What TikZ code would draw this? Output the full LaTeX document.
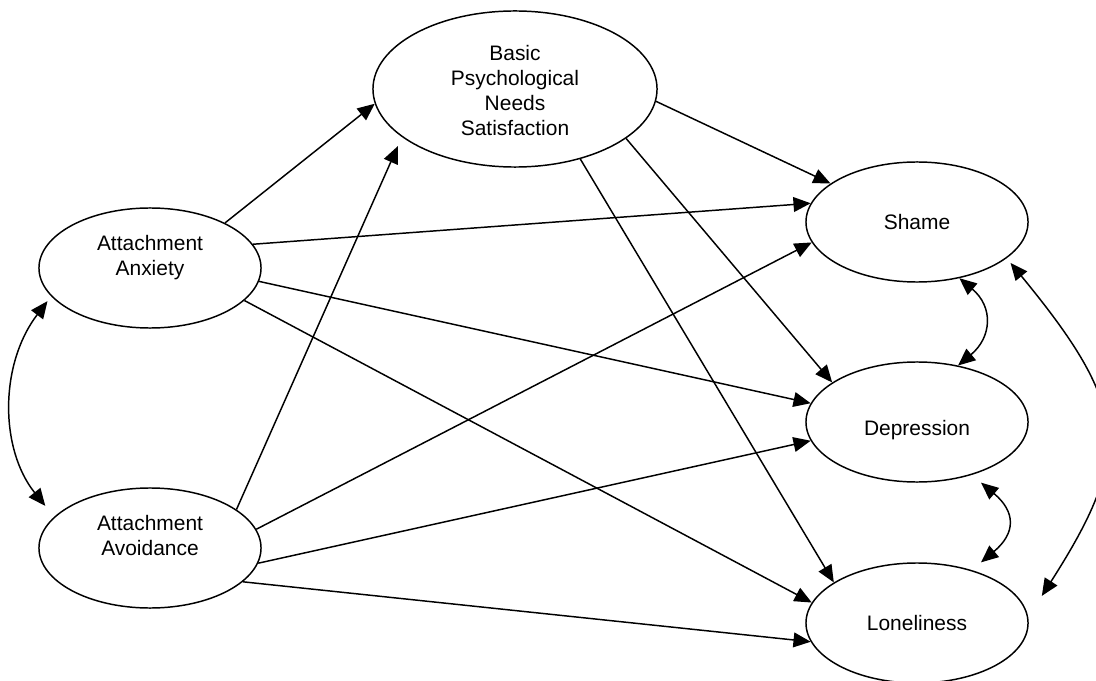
\documentclass[tikz,border=0pt]{standalone}
\usepackage{fontspec}
\setmainfont{Liberation Sans}
\usetikzlibrary{arrows.meta,shapes}

% text lifted inside the ellipse, ellipse size kept
\newcommand{\liftbox}[2]{\raisebox{#1}[\height][\depth]{\begin{tabular}{@{}c@{}}#2\end{tabular}}}

\begin{document}
\begin{tikzpicture}[x=0.025cm,y=-0.025cm,
	construct/.style={draw,ellipse,line width=1.05pt,inner sep=0pt,minimum width=5.55cm,minimum height=3cm,font=\fontsize{14.9}{18.2}\selectfont},
	effect/.style={line width=1.05pt,-{Triangle[length=0.43cm,width=0.37cm]}},
	covar/.style={line width=1.05pt,{Triangle[length=0.43cm,width=0.37cm]}-{Triangle[length=0.43cm,width=0.37cm]}}]
			\useasboundingbox (0,0) rectangle (1096,681);
			
			% Constructs
			\node[construct] (anx) at (150,268) {\liftbox{0.25cm}{Attachment\\Anxiety}};
			\node[construct] (avo) at (150,548) {\liftbox{0.25cm}{Attachment\\Avoidance}};
			\node[construct,minimum width=7.1cm,minimum height=3.9cm,font=\fontsize{14.9}{17.9}\selectfont] (bpn) at (515,89) {\liftbox{-0.1cm}{Basic\\Psychological\\Needs\\Satisfaction}};
			\node[construct] (sha) at (917,222) {\liftbox{-0.05cm}{Shame}};
			\node[construct] (dep) at (917,422) {\liftbox{-0.2cm}{Depression}};
			\node[construct] (lon) at (917,623) {\liftbox{-0.07cm}{Loneliness}};
			
			% Direct paths
			\draw[effect] (anx.31) -- (bpn.186);
			\draw[effect] (anx.13) -- (sha.170);
			\draw[effect] (anx.-7) -- (dep.170);
			\draw[effect] (anx.-19) -- (lon.169);
			\draw[effect,shorten >=0.25cm] (avo.24) -- (bpn.203);
			\draw[effect] (avo.10) -- (sha.191);
			\draw[effect] (avo.-8) -- (dep.190);
			\draw[effect] (avo.-20) -- (lon.190);
			\draw[effect] (bpn.-5) -- (sha.156);
			\draw[effect] (bpn.-24) -- (dep.155);
			\draw[effect] (bpn.-47) -- (lon.154);
			
			% Covariances
			\draw[covar,shorten <=0.15cm,shorten >=0.35cm] (anx.196) to[bend right=38] (avo.162);
			\draw[covar] (sha.-53) to[out=-40,in=40,looseness=1.3] (dep.54);
			\draw[covar,shorten <=0.3cm,shorten >=0.3cm] (dep.-44) to[out=-40,in=40,looseness=1.55] (lon.44);
			\draw[covar,shorten <=0.15cm,shorten >=0.63cm] (sha.-22) to[bend left=36,looseness=1.38] (lon.3);
		\end{tikzpicture}
\end{document}
